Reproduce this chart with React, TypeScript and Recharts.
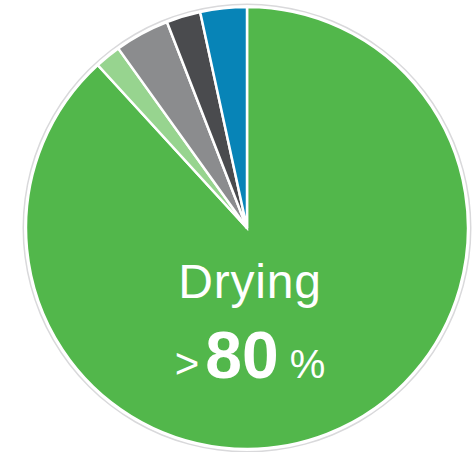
import { Cell, Pie, PieChart } from "recharts";

const categories = ["Drying", "Other A", "Other B", "Other C", "Other D"];
const shares = [88.2, 1.9, 4.0, 2.5, 3.4];
const colors = ["#52b74b", "#97d48f", "#8b8c8e", "#4a4b4e", "#0784b7"];

const data = categories.map((name, i) => ({ name, value: shares[i] }));
const ring = [{ name: "ring", value: 1 }];

const CX = 247;
const CY = 228;

export default function App() {
    return (
        <div style={{ position: "absolute", left: 0, top: 0, width: 472, height: 452, background: "#fff" }}>
            <PieChart width={472} height={452} margin={{ top: 0, right: 0, bottom: 0, left: 0 }}>
                <Pie
                    data={ring}
                    dataKey="value"
                    cx={CX}
                    cy={CY}
                    innerRadius={223}
                    outerRadius={224.5}
                    startAngle={90}
                    endAngle={-270}
                    fill="#d9d9db"
                    stroke="none"
                    isAnimationActive={false}
                />
                <Pie
                    data={data}
                    dataKey="value"
                    cx={CX}
                    cy={CY}
                    outerRadius={221}
                    startAngle={90}
                    endAngle={-270}
                    stroke="#ffffff"
                    strokeWidth={2.5}
                    isAnimationActive={false}
                >
                    {data.map((d, i) => (
                        <Cell key={d.name} fill={colors[i]} />
                    ))}
                </Pie>
            </PieChart>
            <svg
                width={472}
                height={452}
                style={{ position: "absolute", left: 0, top: 0, pointerEvents: "none" }}
            >
                <text
                    x={250}
                    y={298}
                    textAnchor="middle"
                    fill="#fff"
                    fontFamily="'Liberation Sans', Arial, sans-serif"
                    fontSize={48}
                    letterSpacing={0.8}
                >
                    {categories[0]}
                </text>
                <text
                    x={250}
                    y={378}
                    textAnchor="middle"
                    fill="#fff"
                    fontFamily="'Liberation Sans', Arial, sans-serif"
                >
                    <tspan fontSize={42}>&gt;</tspan>
                    <tspan fontSize={66} fontWeight="bold" dx={6}>80</tspan>
                    <tspan fontSize={40} dx={11}>%</tspan>
                </text>
            </svg>
        </div>
    );
}
